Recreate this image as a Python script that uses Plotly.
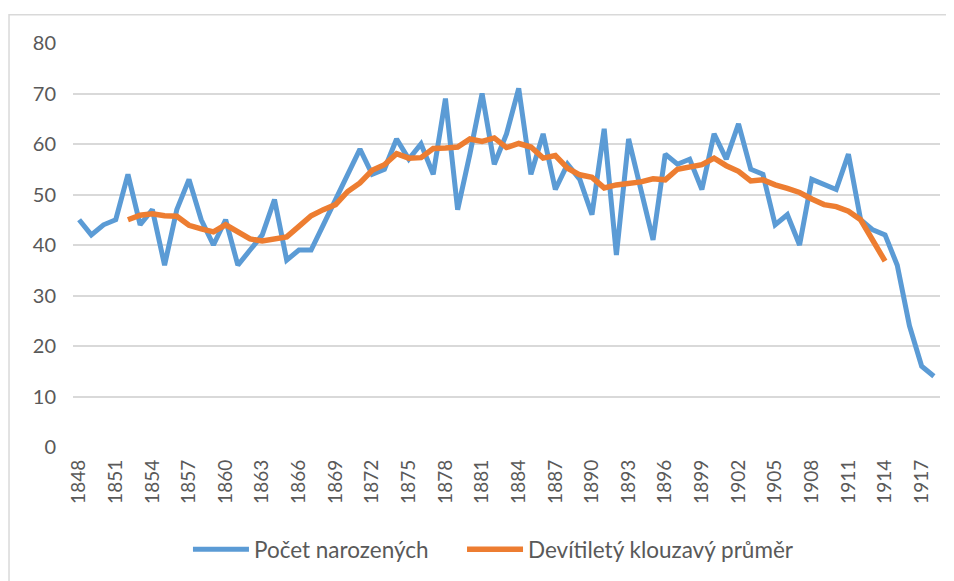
import plotly.graph_objects as go

years = list(range(1848, 1919))

births = [
    45, 42, 44, 45, 54, 44, 47, 36, 47, 53,
    45, 40, 45, 36, 39, 42, 49, 37, 39, 39,
    44, 49, 54, 59, 54, 55, 61, 57, 60, 54,
    69, 47, 58, 70, 56, 62, 71, 54, 62, 51,
    56, 53, 46, 63, 38, 61, 51, 41, 58, 56,
    57, 51, 62, 57, 64, 55, 54, 44, 46, 40,
    53, 52, 51, 58, 45, 43, 42, 36, 24, 16,
    14,
]

# devítiletý klouzavý průměr, 1852-1914
ma_years = list(range(1852, 1915))
moving_avg = [
    45.0, 45.9, 46.2, 45.8, 45.7, 43.9, 43.2, 42.6, 44.0, 42.7,
    41.2, 40.8, 41.2, 41.6, 43.7, 45.8, 47.0, 48.0, 50.6, 52.3,
    54.8, 55.9, 58.1, 57.2, 57.3, 59.1, 59.2, 59.4, 61.0, 60.5,
    61.2, 59.3, 60.1, 59.4, 57.2, 57.7, 55.2, 53.9, 53.4, 51.3,
    51.9, 52.1, 52.5, 53.1, 52.9, 55.0, 55.4, 55.9, 57.2, 55.7,
    54.6, 52.7, 52.9, 51.9, 51.2, 50.4, 49.1, 48.0, 47.6, 46.7,
    45.0, 41.0, 36.8,
]

tick_years = years[::3]

font = "Lato, 'Open Sans', sans-serif"
grey = "#595959"

fig = go.Figure()
fig.add_trace(go.Scatter(
    x=years, y=births, mode="lines", name="Počet narozených",
    line=dict(color="#5B9BD5", width=5), legend="legend",
))
fig.add_trace(go.Scatter(
    x=ma_years, y=moving_avg, mode="lines", name="Devítiletý klouzavý průměr",
    line=dict(color="#ED7D31", width=5.5), legend="legend2",
))

# outer chart border like in Excel
fig.add_shape(
    type="rect", xref="paper", yref="paper",
    x0=-0.0738, x1=1.03, y0=-0.36, y1=1.070,
    line=dict(color="#d9d9d9", width=1.5), fillcolor="rgba(0,0,0,0)",
    layer="below",
)

legend_style = dict(
    orientation="h", xanchor="left", y=-0.254, yanchor="middle",
    font=dict(size=22.5, color=grey), itemwidth=56,
)

# page body adds an 8px offset, so the figure is 8px smaller
fig.update_layout(
    width=946, height=573,
    margin=dict(l=65, r=14, t=35, b=134, autoexpand=False),
    paper_bgcolor="white", plot_bgcolor="white",
    font=dict(family=font, size=20, color=grey),
    showlegend=True,
    legend=dict(x=0.1326, **legend_style),
    legend2=dict(x=0.4487, **legend_style),
    xaxis=dict(
        range=[1847.5, 1918.5], tickmode="array", tickvals=tick_years,
        ticktext=[str(y) for y in tick_years], tickangle=-90,
        showgrid=False, zeroline=False, showline=False, ticks="",
        ticklabelstandoff=8, tickfont=dict(size=19),
    ),
    yaxis=dict(
        range=[0, 80], dtick=10, showgrid=True, gridcolor="#d9d9d9",
        gridwidth=1.5, zeroline=False, showline=False, ticks="",
        ticklabelstandoff=16, tickfont=dict(size=20),
    ),
)

fig.write_html("out.html")
